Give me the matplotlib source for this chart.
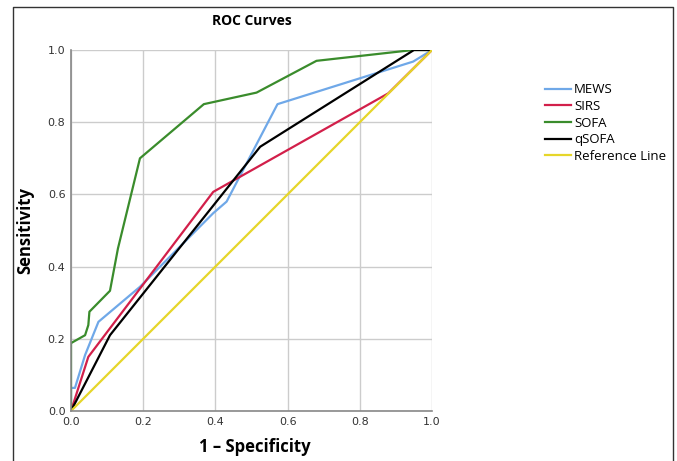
import matplotlib.pyplot as plt
from matplotlib.lines import Line2D

# ROC points (1 - specificity, sensitivity)
mews_x = [0.0, 0.0, 0.011, 0.039, 0.076, 0.191, 0.394, 0.431, 0.572, 0.948, 1.0]
mews_y = [0.0, 0.064, 0.064, 0.155, 0.247, 0.344, 0.548, 0.580, 0.850, 0.968, 1.0]

sirs_x = [0.0, 0.048, 0.394, 0.879, 1.0]
sirs_y = [0.0, 0.150, 0.607, 0.880, 1.0]

sofa_x = [0.0, 0.0, 0.039, 0.048, 0.051, 0.108, 0.13, 0.191, 0.368, 0.514, 0.68, 0.948, 1.0]
sofa_y = [0.0, 0.188, 0.21, 0.238, 0.275, 0.333, 0.45, 0.70, 0.850, 0.882, 0.970, 1.0, 1.0]

qsofa_x = [0.0, 0.108, 0.524, 0.95, 1.0]
qsofa_y = [0.0, 0.21, 0.732, 1.0, 1.0]

ref_x = [0.0, 1.0]
ref_y = [0.0, 1.0]

ticks = [0.0, 0.2, 0.4, 0.6, 0.8, 1.0]
tick_labels = ["0.0", "0.2", "0.4", "0.6", "0.8", "1.0"]

fig = plt.figure(figsize=(6.77, 4.61), dpi=100)
ax = fig.add_axes([71 / 677, 50 / 461, 361 / 677, 361 / 461])

ax.plot(mews_x, mews_y, color="#6fa8e8", lw=1.6, label="MEWS")
ax.plot(sirs_x, sirs_y, color="#d21f4a", lw=1.6, label="SIRS")
ax.plot(sofa_x, sofa_y, color="#3a8c2c", lw=1.6, label="SOFA")
ax.plot(qsofa_x, qsofa_y, color="black", lw=1.6, label="qSOFA")
ax.plot(ref_x, ref_y, color="#e6d62a", lw=1.6, label="Reference Line")

ax.set_xlim(0, 1)
ax.set_ylim(0, 1)
ax.set_xticks(ticks, tick_labels)
ax.set_yticks(ticks, tick_labels)
ax.tick_params(length=0, labelsize=8, colors="#333333", pad=4)
ax.grid(True, color="#cccccc", lw=1)
ax.set_axisbelow(True)
for side in ["top", "right"]:
    ax.spines[side].set_visible(False)
for side in ["left", "bottom"]:
    ax.spines[side].set_color("#888888")
    ax.spines[side].set_linewidth(1.2)

ax.set_title("ROC Curves", fontsize=10, fontweight="bold", family="Open Sans", pad=18)
ax.set_xlabel("1 – Specificity", fontsize=12, fontweight="bold", family="Open Sans")
ax.set_ylabel("Sensitivity", fontsize=12, fontweight="bold", family="Open Sans",
              labelpad=10)
ax.xaxis.set_label_coords(0.51, -0.075)

leg = ax.legend(loc="upper left", bbox_to_anchor=(1.313, 0.908), frameon=False,
                fontsize=9.5, handlelength=2.0, handletextpad=0.2,
                labelspacing=0.28, borderaxespad=0, borderpad=0)
for t in leg.get_texts():
    t.set_family("Open Sans")

# outer frame around the whole panel
fx0, fx1 = 13 / 677, 673 / 677
fy1 = 1 - 7 / 461
fig.add_artist(Line2D([fx0, fx0, fx1, fx1], [-0.05, fy1, fy1, -0.05],
                      transform=fig.transFigure, color="#333333", lw=1))

fig.savefig("out.png", dpi=100)
